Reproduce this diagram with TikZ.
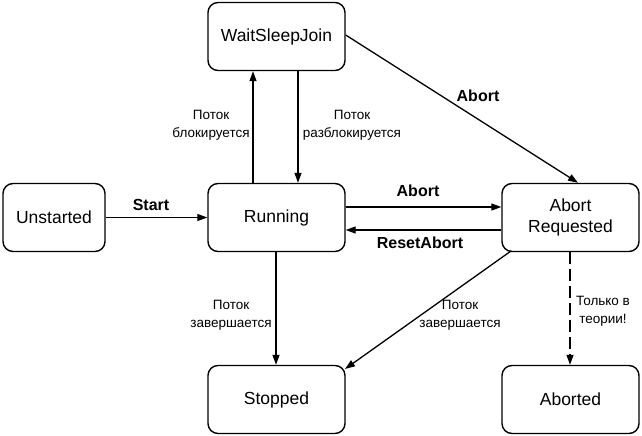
\documentclass[tikz,border=0pt]{standalone}
\usepackage{fontspec}
\setmainfont{Liberation Sans}
\usetikzlibrary{arrows.meta}
\begin{document}
\begin{tikzpicture}[x=1pt,y=-1pt,
  state/.style={draw,line width=1.4pt,rounded corners=10pt,minimum width=137pt,minimum height=68pt,font=\fontsize{17.5}{21}\selectfont,align=center,inner sep=0pt},
  conn/.style={line width=1.3pt,-{Triangle[length=10pt,width=7pt]}},
  small/.style={font=\fontsize{13.5}{18}\selectfont,align=center,inner sep=0pt},
  bold/.style={font=\fontsize{16}{19}\selectfont\bfseries,inner sep=0pt}]
\useasboundingbox (0,0) rectangle (642,436);
\node[state] (wsj) at (276.5,36.5) {WaitSleepJoin};
\node[state,minimum width=102pt] (uns) at (54,217.5) {Unstarted};
\node[state] (run) at (276.5,217.5) {Running};
\node[state] (ar) at (570.5,217.5) {Abort\\Requested};
\node[state] (stop) at (276.5,399.5) {Stopped};
\node[state] (abd) at (570.5,399.5) {Aborted};

\draw[conn] (uns.east) -- (run.west);
\node[bold] (lstart) at (151,205) {Start};

\draw[conn] (run.north -| 253,0) -- (wsj.south -| 253,0);
\node[small] (lblk) at (211,125) {Поток\\блокируется};
\draw[conn] (wsj.south -| 298,0) -- (run.north -| 298,0);
\node[small] (lunblk) at (352,125) {Поток\\разблокируется};

\draw[conn] (wsj.east |- 0,35) -- (ar.north -| 578,0);
\node[bold] (labort1) at (478,96) {Abort};

\draw[conn] (run.east |- 0,207) -- (ar.west |- 0,207);
\node[bold] (labort2) at (418,191) {Abort};
\draw[conn] (ar.west |- 0,230) -- (run.east |- 0,230);
\node[bold] (lreset) at (420,243) {ResetAbort};

\draw[conn] (run.south -| 276,0) -- (stop.north -| 276,0);
\node[small] (lend1) at (231,315) {Поток\\завершается};

\coordinate (arsw) at (511,251);
\draw[conn] (arsw) -- (345,369);
\node[small] (lend2) at (460,315) {Поток\\завершается};

\draw[conn,dashed,dash pattern=on 12pt off 5pt] (ar.south -| 570,0) -- (abd.north -| 570,0);
\node[small] (ltheory) at (603,311) {Только в\\теории!};
\end{tikzpicture}
\end{document}
